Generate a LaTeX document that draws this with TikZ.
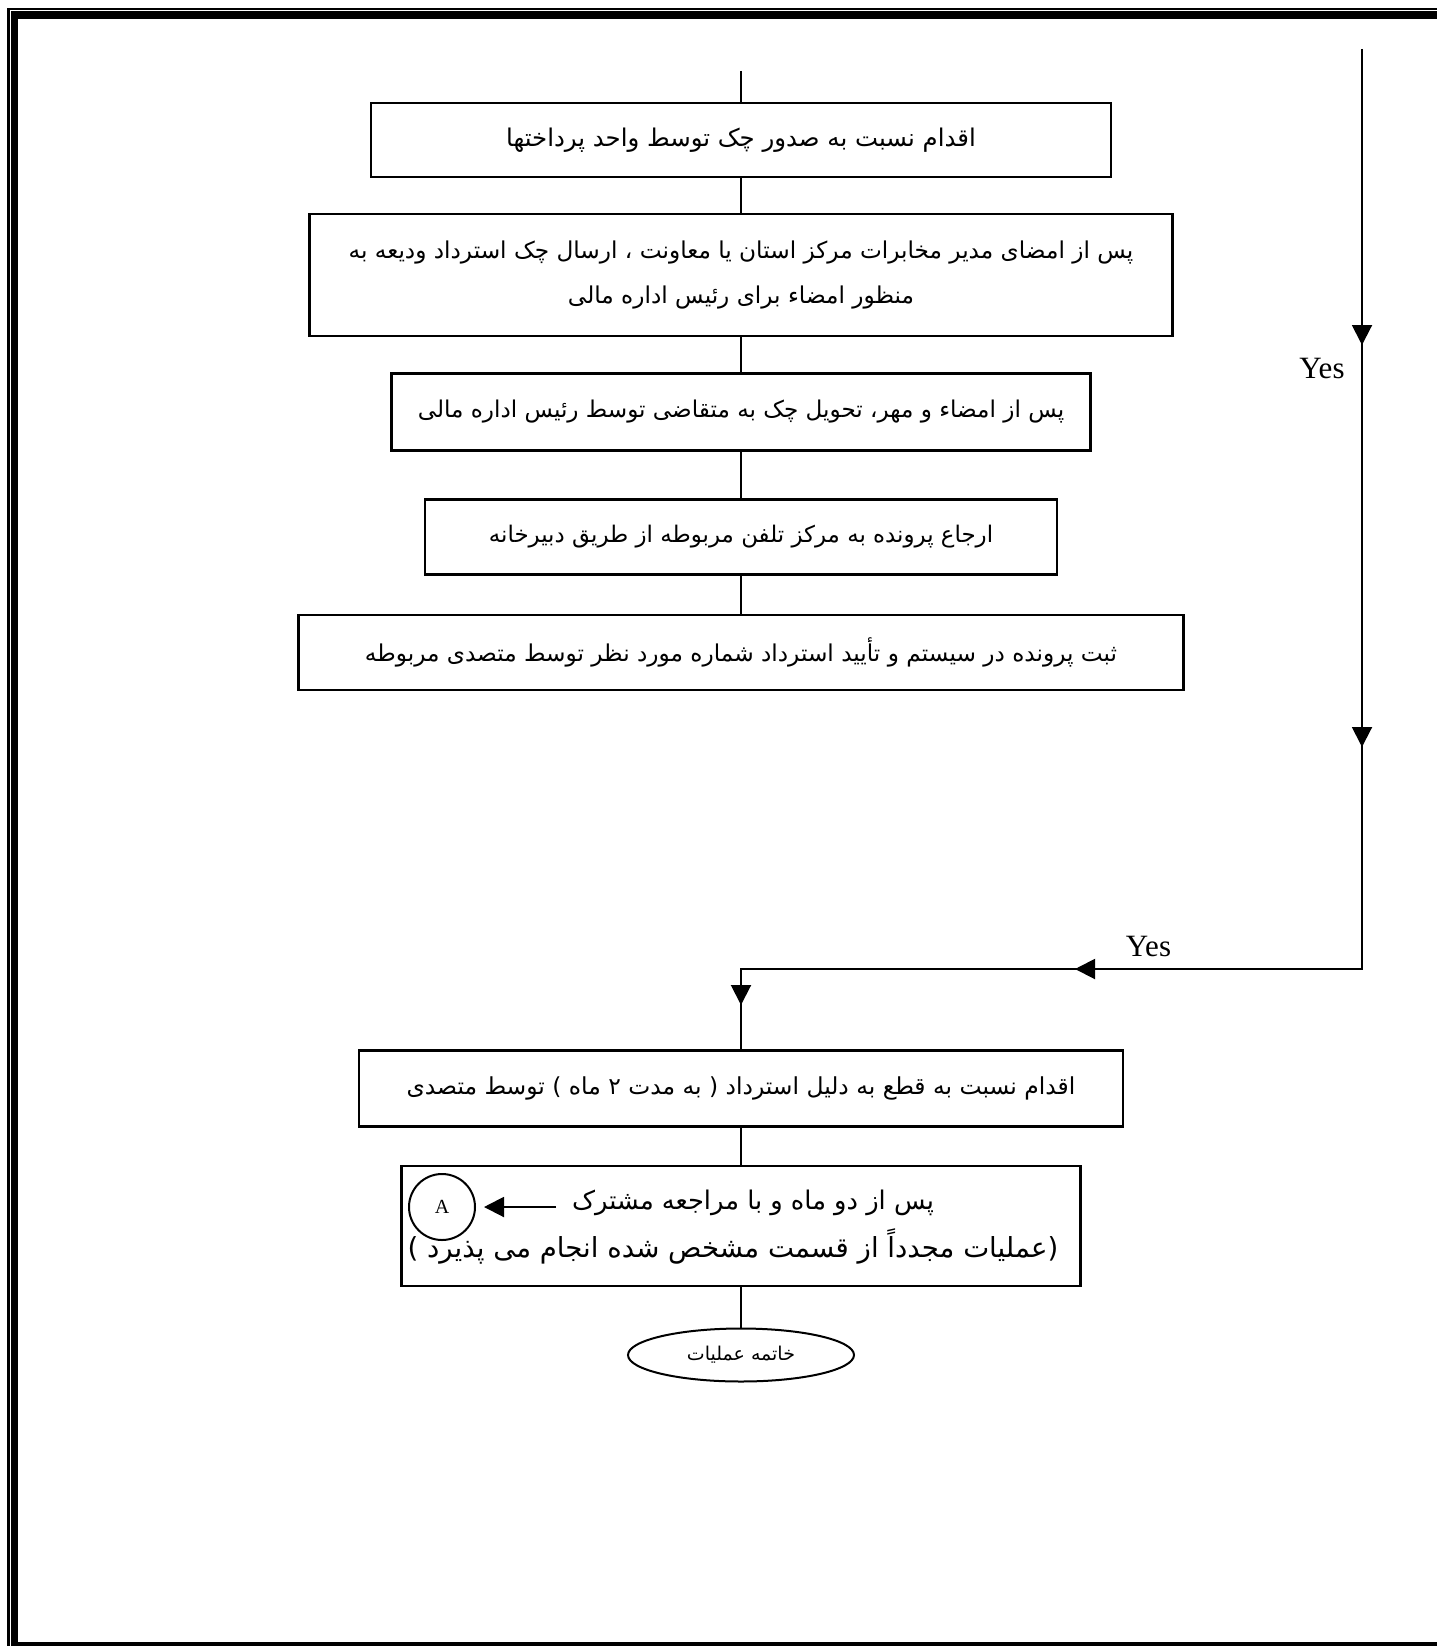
\documentclass[tikz,border=0pt]{standalone}
\usepackage{fontspec}
\setmainfont{Liberation Serif}
\newfontfamily\arabicfont[Script=Arabic]{DejaVu Sans}
\TeXXeTstate=1
\usetikzlibrary{arrows.meta,shapes.geometric,decorations.markings}
\newcommand\fatext[1]{{\arabicfont\beginR #1\endR}}
\tikzset{
  box/.style={draw, line width=2.2pt, inner sep=0pt},
  conn/.style={line width=2pt},
  arr/.style={line width=2pt, -{Triangle[length=20pt,width=20pt]}},
  fa/.style={font=\arabicfont\fontsize{#1}{#1}\selectfont, inner sep=0pt},
  yes/.style={font=\fontsize{31}{31}\selectfont, anchor=base, inner sep=0pt},
}
\begin{document}
\begin{tikzpicture}[x=1pt,y=-1pt]
\useasboundingbox (0,0) rectangle (1437,1646);
\clip (0,0) rectangle (1437,1646);
% page border
\draw[line width=2.5pt] (8.5,9) rectangle (1460,1670);
\draw[line width=7.5pt] (14.5,15) rectangle (1455,1646);

% boxes
\node[box, minimum width=740pt, minimum height=74pt] (b1) at (741,140) {};
\node[fa=24.4] (t1) at (b1.center) {\fatext{اقدام نسبت به صدور چک توسط واحد پرداختها}};

\node[box, minimum width=863pt, minimum height=122pt] (b2) at (741,275) {};
\node[fa=23.2] (t2a) at (741,253) {\fatext{پس از امضای مدیر مخابرات مرکز استان یا معاونت ، ارسال چک استرداد ودیعه به}};
\node[fa=23.2] (t2b) at (741,298) {\fatext{منظور امضاء برای رئیس اداره مالی}};

\node[box, minimum width=699pt, minimum height=77pt] (b3) at (741,412) {};
\node[fa=23.1] (t3) at (b3.center) {\fatext{پس از امضاء و مهر، تحویل چک به متقاضی توسط رئیس اداره مالی}};

\node[box, minimum width=632pt, minimum height=75pt] (b4) at (741,537) {};
\node[fa=22.9] (t4) at (b4.center) {\fatext{ارجاع پرونده به مرکز تلفن مربوطه از طریق دبیرخانه}};

\node[box, minimum width=885pt, minimum height=75pt] (b5) at (741,652.5) {};
\node[fa=23.2] (t5) at (b5.center) {\fatext{ثبت پرونده در سیستم و تأیید استرداد شماره مورد نظر توسط متصدی مربوطه}};

\node[box, minimum width=764pt, minimum height=76pt] (b6) at (741,1088.5) {};
\node[fa=23.4] (t6) at (b6.center) {\fatext{اقدام نسبت به قطع به دلیل استرداد ( به مدت ۲ ماه ) توسط متصدی}};

\node[box, minimum width=679pt, minimum height=120pt] (b7) at (741,1226) {};
\node[fa=25.7] (t7a) at (753,1203) {\fatext{پس از دو ماه و با مراجعه مشترک}};
\node[fa=27.6] (t7b) at (733,1246) {\fatext{(عملیات مجدداً از قسمت مشخص شده انجام می پذیرد )}};
\node[circle, draw, line width=2pt, minimum size=66pt, inner sep=0pt, font=\fontsize{20}{20}\selectfont] (ca) at (442,1207) {A};
\coordinate (a1) at (556,1207);
\draw[arr, shorten >=8pt] (a1) -- (ca.east);

\node[ellipse, draw, line width=2pt, minimum width=226pt, minimum height=53pt, inner sep=0pt] (end) at (741,1355) {};
\node[fa=19] (te) at (end.center) {\fatext{خاتمه عملیات}};

% main connectors
\coordinate (top) at (741,71);
\draw[conn] (top) -- (b1.north);
\draw[conn] (b1.south) -- (b2.north);
\draw[conn] (b2.south) -- (b3.north);
\draw[conn] (b3.south) -- (b4.north);
\draw[conn] (b4.south) -- (b5.north);
\draw[conn] (b6.south) -- (b7.north);
\draw[conn] (b7.south) -- (end.north);

% right "Yes" path
\coordinate (r0) at (1362,49);
\coordinate (rc) at (1362,969);
\coordinate (lc) at (741,969);
\draw[conn, postaction={decorate}, decoration={markings,
   mark=at position 296pt with {\arrow{Triangle[length=20pt,width=20pt]}},
   mark=at position 698pt with {\arrow{Triangle[length=20pt,width=20pt]}},
   mark=at position 1207pt with {\arrow{Triangle[length=20pt,width=20pt]}},
   mark=at position 1577pt with {\arrow{Triangle[length=20pt,width=20pt]}}}]
   (r0) -- (rc) -- (lc) -- (b6.north);
\node[yes] (y1) at (1322,378) {Yes};
\node[yes] (y2) at (1148.5,956) {Yes};
\end{tikzpicture}
\end{document}
